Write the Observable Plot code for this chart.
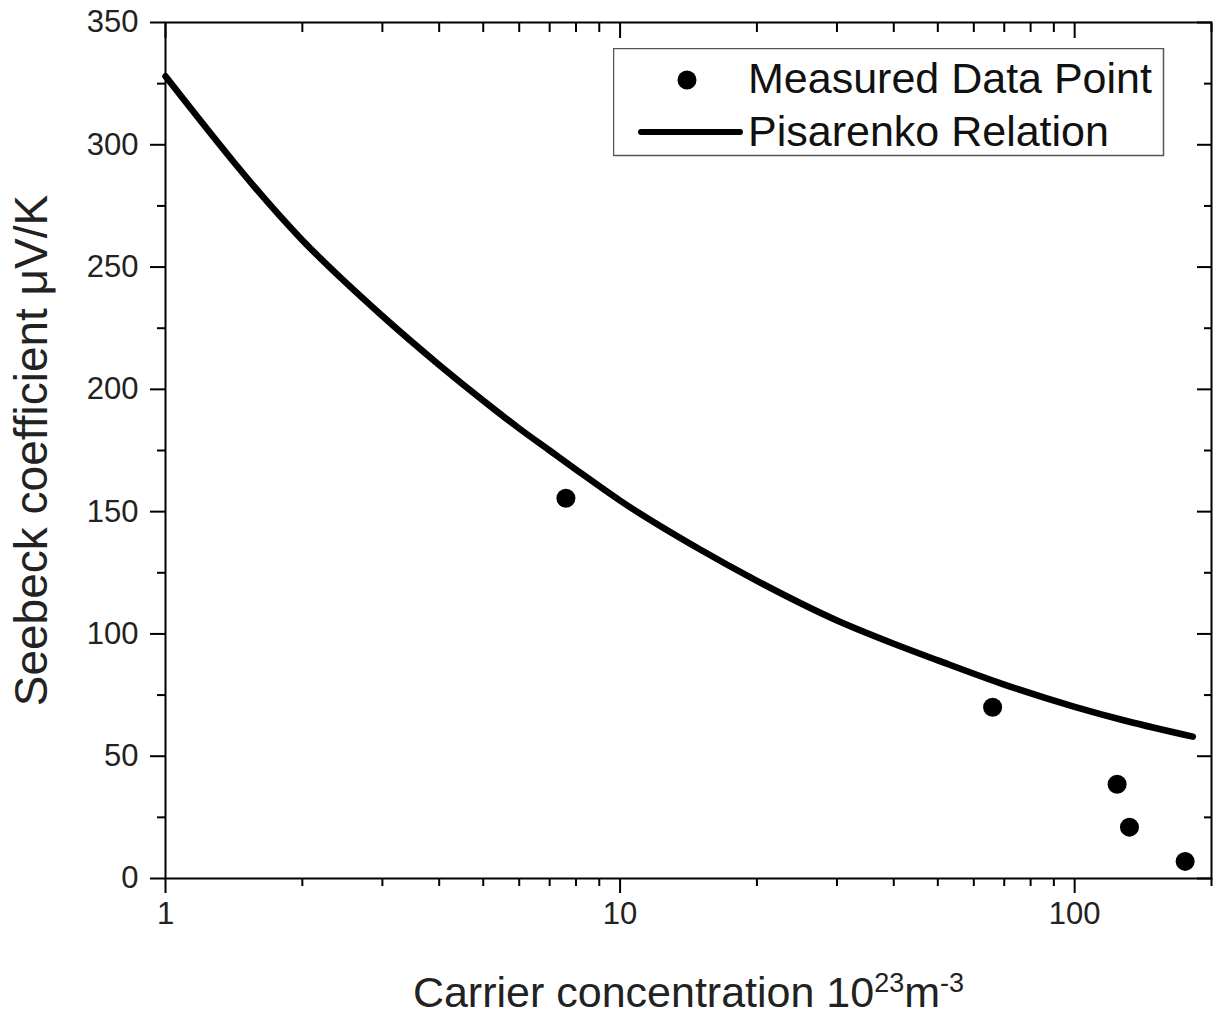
<!DOCTYPE html>
<html><head><meta charset="utf-8">
<script src="https://cdn.jsdelivr.net/npm/d3@7"></script>
<script src="https://cdn.jsdelivr.net/npm/@observablehq/plot@0.6"></script>
<style>
body{margin:0;background:#fff;}
#wrap{position:relative;width:1221px;height:1020px;font-family:"Liberation Sans",Arial,sans-serif;}
#legend{position:absolute;left:613px;top:48px;}
</style></head><body><div id="wrap"></div>
<script>
// Pisarenko relation curve
const curveX = [1, 2, 3, 4, 5, 6, 7, 8, 10, 15, 20, 30, 40, 50, 70, 100, 130, 182];
const curveY = [328, 261, 230, 210, 195.4, 184, 175, 167.2, 154.5, 134.5, 121.7, 105.5, 96, 89.2, 79.3, 70.2, 64.4, 58];
// Measured data points
const pointX = [7.6, 66, 124, 132, 175];
const pointY = [155.5, 70, 38.5, 21, 7];
// Ticks
const xMajor = [1, 10, 100];
const xMinor = [2, 3, 4, 5, 6, 7, 8, 9, 20, 30, 40, 50, 60, 70, 80, 90, 200];
const yMajor = [0, 50, 100, 150, 200, 250, 300, 350];
const yMinor = [25, 75, 125, 175, 225, 275, 325];
const legendLabels = ["Measured Data Point", "Pisarenko Relation"];
const xLabel = "Carrier concentration 10";
const yLabel = "Seebeck coefficient \u03BCV/K";

const curve = curveX.map((x, i) => ({x, y: curveY[i]}));
const points = pointX.map((x, i) => ({x, y: pointY[i]}));

const FONT = '"Liberation Sans", Arial, sans-serif';
const plot = Plot.plot({
  width: 1221, height: 1020,
  marginLeft: 165, marginRight: 10, marginTop: 22, marginBottom: 142,
  style: {fontFamily: FONT, color: "#222", background: "white", overflow: "visible"},
  x: {type: "log", domain: [1, 200]},
  y: {domain: [0, 350]},
  marks: [
    Plot.frame({stroke: "#000", strokeWidth: 2}),
    // bottom axis
    Plot.axisX({anchor: "bottom", ticks: xMajor, tickSize: 15, tickPadding: 8, stroke: "#000", strokeWidth: 2, fontSize: 31, tickFormat: d => String(d), label: null}),
    Plot.axisX({anchor: "bottom", ticks: xMinor, tickSize: 8, stroke: "#000", strokeWidth: 2, fill: "none", label: null}),
    Plot.axisX({anchor: "bottom", ticks: [], tickSize: 0, fontSize: 43, label: xLabel, labelAnchor: "center", labelOffset: 128, labelArrow: "none"}),
    // top axis (inward)
    Plot.axisX({anchor: "top", ticks: xMajor, tickSize: -15, stroke: "#000", strokeWidth: 2, fill: "none", label: null}),
    Plot.axisX({anchor: "top", ticks: xMinor, tickSize: -9, stroke: "#000", strokeWidth: 2, fill: "none", label: null}),
    // left axis
    Plot.axisY({anchor: "left", ticks: yMajor, tickSize: 15, tickPadding: 12, stroke: "#000", strokeWidth: 2, fontSize: 31, label: null}),
    Plot.axisY({anchor: "left", ticks: yMinor, tickSize: 8, stroke: "#000", strokeWidth: 2, fill: "none", label: null}),
    Plot.axisY({anchor: "left", ticks: [], tickSize: 0, fontSize: 46, label: yLabel, labelAnchor: "center", labelOffset: 151, labelArrow: "none"}),
    // right axis (inward)
    Plot.axisY({anchor: "right", ticks: yMajor, tickSize: -15, stroke: "#000", strokeWidth: 2, fill: "none", label: null}),
    Plot.axisY({anchor: "right", ticks: yMinor, tickSize: -8, stroke: "#000", strokeWidth: 2, fill: "none", label: null}),
    // data
    Plot.line(curve, {x: "x", y: "y", stroke: "#000", strokeWidth: 6.5, curve: "monotone-x", strokeLinejoin: "round", strokeLinecap: "round"}),
    Plot.dot(points, {x: "x", y: "y", r: 9.5, fill: "#000", stroke: "none"})
  ]
});
document.getElementById("wrap").appendChild(plot);

// superscripts in x label
const xl = plot.querySelector('g[aria-label="x-axis label"] text');
if (xl) {
  const t = xl.querySelector("tspan") || xl;
  t.textContent = xLabel;
  const ns = "http://www.w3.org/2000/svg";
  const parts = [["23", -15, 27], ["m", 15, 43], ["-3", -15, 27]];
  for (const [s, dy, fs] of parts) {
    const sp = document.createElementNS(ns, "tspan");
    sp.setAttribute("dy", dy);
    sp.setAttribute("font-size", fs);
    sp.textContent = s;
    t.appendChild(sp);
  }
}

// legend
const lg = d3.select("#wrap").append("svg").attr("id", "legend").attr("width", 552).attr("height", 109)
  .style("font-family", FONT);
lg.append("rect").attr("x", 0.5).attr("y", 0.5).attr("width", 550).attr("height", 107)
  .attr("fill", "white").attr("stroke", "#555").attr("stroke-width", 1.5);
lg.append("circle").attr("cx", 74).attr("cy", 32).attr("r", 9.5).attr("fill", "#000");
lg.append("line").attr("x1", 28).attr("x2", 127).attr("y1", 84).attr("y2", 84)
  .attr("stroke", "#000").attr("stroke-width", 6).attr("stroke-linecap", "round");
lg.selectAll("text.lab").data(legendLabels).join("text").attr("class", "lab")
  .attr("x", 135).attr("y", (d, i) => 45 + i * 53).attr("font-size", 43).attr("fill", "#111").text(d => d);
</script></body></html>
